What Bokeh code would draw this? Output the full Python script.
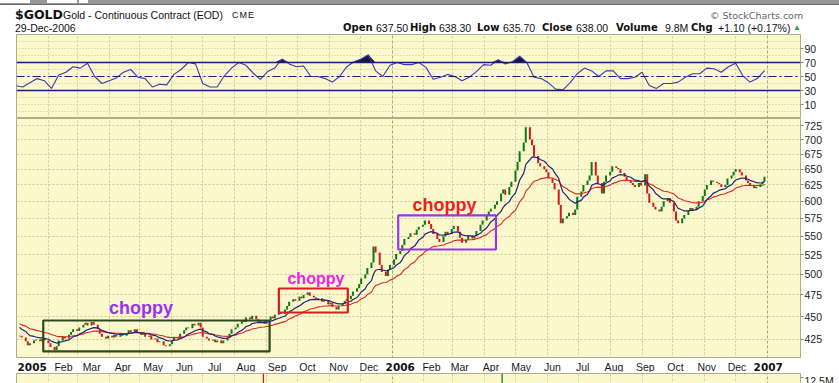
import numpy as np
import pandas as pd
from bokeh.plotting import figure
from bokeh.layouts import column
from bokeh.models import (Range1d, FixedTicker, Grid, Span, Label, Div,
                          NumeralTickFormatter, ColumnDataSource)
from bokeh.embed import file_html
from bokeh.resources import INLINE
from bokeh.core.properties import value

# ---------------- data ----------------
end_date = "2006-12-29"
first_open = 428.5
closes = [
    429, 427, 423, 419, 421, 424, 425, 423, 426, 424,
    421, 417, 414, 418, 424, 428, 426, 430, 433, 436,
    434, 438, 441, 443, 440, 444, 441, 436, 431, 428,
    426, 429, 427, 430, 428, 431, 429, 432, 435, 433,
    436, 433, 430, 432, 428, 429, 425, 426, 422, 423,
    419, 418, 420, 424, 428, 426, 431, 435, 438, 437,
    442, 440, 443, 438, 428, 426, 424, 425, 422, 424,
    421, 424, 427, 431, 436, 438, 442, 446, 444, 449,
    447, 451, 447, 443, 445, 442, 446, 450, 448, 452,
    455, 453, 458, 462, 467, 470, 468, 473, 471, 475,
    478, 474, 472, 469, 471, 467, 469, 464, 466, 461,
    458, 462, 465, 468, 470, 474, 479, 483, 488, 495,
    500, 508, 515, 536, 528, 512, 503, 498, 506, 512,
    519, 526, 530, 538, 546, 549, 554, 552, 559, 563,
    566, 572, 567, 560, 553, 546, 542, 550, 556, 553,
    560, 564, 556, 548, 541, 545, 551, 547, 550, 557,
    566, 572, 580, 585, 589, 595, 600, 612, 618, 610,
    622, 630, 648, 662, 680, 695, 722, 700, 690, 672,
    660, 655, 650, 645, 635, 628, 618, 595, 568, 575,
    578, 583, 580, 588, 607, 615, 625, 632, 640, 662,
    640, 628, 612, 630, 640, 646, 655, 652, 650, 644,
    638, 632, 628, 625, 622, 628, 624, 642, 612, 598,
    592, 588, 585, 592, 600, 605, 598, 585, 572, 568,
    575, 580, 586, 590, 587, 592, 600, 608, 618, 625,
    632, 630, 628, 626, 622, 625, 635, 640, 646, 650,
    645, 640, 632, 628, 625, 620, 622, 626, 630, 638,
]
rsi_values = [
    37, 35, 41, 47, 44, 33, 52, 56, 64, 62,
    69, 50, 40, 44, 48, 56, 60, 49, 47, 35,
    39, 38, 53, 60, 70, 68, 40, 35, 35, 51,
    62, 70, 66, 55, 46, 57, 62, 75, 68, 64,
    65, 50, 50, 47, 42, 50, 64, 71, 75, 81,
    58, 50, 66, 70, 67, 67, 70, 63, 46, 49,
    53, 50, 44, 49, 57, 67, 66, 74, 68, 71,
    79, 70, 49, 47, 41, 32, 31, 41, 54, 62,
    58, 50, 58, 58, 47, 47, 49, 56, 37, 33,
    40, 40, 42, 49, 54, 54, 62, 61, 56, 64,
    69, 51, 42, 47, 58.45,
]
blue_seed, blue_span = 440.0, 10
red_seed, red_span = 443.0, 25
price_ticks = [425, 450, 475, 500, 525, 550, 575, 600, 625, 650, 675, 700, 725]
rsi_ticks = [10, 30, 50, 70, 90]
rsi_grid = [0, 10, 20, 30, 40, 50, 60, 70, 80, 90, 100]
rsi_bands = [30, 70]
rsi_mid = 50
volume_ticks = [12.5e6]
volume_tick_labels = {12500000: "12.5M"}
vol_spike_dates = ["2005-08-29", "2006-04-18"]
vol_spike_values = [14.0e6, 14.5e6]
vol_spike_up = [False, True]
last_close = 638.00
last_ma = 626.27
last_rsi = 58.45
box_left = ["2005-01-27", "2005-09-13", "2006-01-07"]
box_right = ["2005-09-04", "2005-11-19", "2006-04-12"]
box_top = [445.6, 482.7, 579.2]
box_bottom = [412.5, 454.6, 532.0]
note_dates = ["2005-05-02", "2005-10-19", "2006-02-21"]
note_prices = [460.0, 495.0, 594.0]
note_text = ["choppy", "choppy", "choppy"]

# ---------------- styling ----------------
YELLOW = "#faf8cc"
OUTLINE = "#b0ac84"
GRID = "#cdc9a0"
YEARGRID = "#a9a57c"
UP = "#0b7a12"
DOWN = "#d41a1a"
W = 839
LEFT = 16
RIGHT = 39
FRAME_W = W - LEFT - RIGHT


def ms(t):
    return pd.Timestamp(t).value / 1e6


price_dates = pd.bdate_range(end=end_date, periods=len(closes), freq="2B")
rsi_dates = pd.bdate_range(end=end_date, periods=len(rsi_values), freq="5B")
px = price_dates.asi8 / 1e6
rx = rsi_dates.asi8 / 1e6

month_starts = pd.date_range("2005-01-01", "2007-01-01", freq="MS")
month_ms = [ms(d) for d in month_starts if d.month != 1]
year_ms = [ms(d) for d in month_starts if d.month == 1]
month_lbl = [d.strftime("%b") for d in month_starts if d.month != 1]
year_lbl = [d.strftime("%Y") for d in month_starts if d.month == 1]

x_start = ms("2005-01-01")
x_end = ms("2007-02-02")
xr = Range1d(x_start, x_end)


def ema(vals, span, seed):
    a = 2.0 / (span + 1)
    m = seed
    out = []
    for v in vals:
        m = m + a * (v - m)
        out.append(m)
    return out


blue_ma = ema(closes, blue_span, blue_seed)
red_ma = ema(closes, red_span, red_seed)


def base_fig(height, y_range, y_type="linear"):
    f = figure(width=W, height=height, x_range=xr, y_range=y_range, y_axis_type=y_type,
               x_axis_location=None, y_axis_location="right", toolbar_location=None,
               tools="", output_backend="svg", min_border_left=LEFT, min_border_right=RIGHT,
               min_border_top=0, min_border_bottom=0, background_fill_color=YELLOW,
               border_fill_color="white", outline_line_color=OUTLINE, outline_line_width=1)
    f.xgrid.visible = False
    f.ygrid.visible = False
    f.add_layout(Grid(dimension=0, ticker=FixedTicker(ticks=month_ms), grid_line_color=GRID,
                      grid_line_dash="2 2", grid_line_width=1))
    f.add_layout(Grid(dimension=0, ticker=FixedTicker(ticks=year_ms), grid_line_color=YEARGRID,
                      grid_line_dash="3 2", grid_line_width=1))
    ax = f.yaxis[0]
    ax.axis_line_color = None
    ax.major_tick_out = 3
    ax.major_tick_in = 0
    ax.major_tick_line_color = "#888888"
    ax.minor_tick_line_color = None
    ax.major_label_standoff = 1
    ax.major_label_text_font = "Liberation Sans"
    ax.major_label_text_font_size = "10.5px"
    ax.major_label_text_color = "#222222"
    return f


# ---------------- RSI panel ----------------
rsi_fig = base_fig(84, Range1d(-10, 110))
rsi_fig.add_layout(Grid(dimension=1, ticker=FixedTicker(ticks=rsi_grid), grid_line_color=GRID,
                        grid_line_dash="1 2", grid_line_width=1))
rsi_fig.yaxis.ticker = FixedTicker(ticks=rsi_ticks)
rsi_arr = np.array(rsi_values, dtype=float)
rsi_fig.varea(x=rx, y1=rsi_bands[1], y2=np.maximum(rsi_arr, rsi_bands[1]), fill_color="#17173c")
for lv in rsi_bands:
    rsi_fig.add_layout(Span(location=lv, dimension="width", line_color="#1c1c70", line_width=1.3))
rsi_fig.add_layout(Span(location=rsi_mid, dimension="width", line_color="#1c1c70", line_width=1,
                        line_dash="8 3 2 3"))
rsi_fig.line(rx, rsi_arr, line_color="#3a3ab4", line_width=1.1)
rsi_fig.add_layout(Label(x=x_end, y=last_rsi, x_offset=2, text=f"{last_rsi:.2f}",
                         text_font="Liberation Sans", text_font_size="11px",
                         text_color="#1c1c70", text_baseline="middle", text_align="left",
                         background_fill_color="white", border_line_color="#1c1c70"))

# ---------------- price panel ----------------
price_fig = base_fig(240, Range1d(405.3, 737.8), y_type="log")
price_fig.add_layout(Grid(dimension=1, ticker=FixedTicker(ticks=price_ticks), grid_line_color=GRID,
                          grid_line_dash="2 2", grid_line_width=1))
price_fig.yaxis.ticker = FixedTicker(ticks=price_ticks)
price_fig.yaxis.formatter = NumeralTickFormatter(format="0")

prev = [first_open] + closes[:-1]
bar_src = ColumnDataSource(dict(
    x=px, prev=prev, close=closes,
    color=[UP if c >= p else DOWN for c, p in zip(closes, prev)],
))
price_fig.segment(x0="x", y0="prev", x1="x", y1="close", line_color="color", line_width=2,
                  source=bar_src)
price_fig.line(px, red_ma, line_color="#dd2626", line_width=1.1)
price_fig.line(px, blue_ma, line_color="#22227a", line_width=1.2)

box_colors = ["#2e4a1c", "#d81e1e", "#9a35e8"]
price_fig.quad(left=[ms(d) for d in box_left], right=[ms(d) for d in box_right],
               top=box_top, bottom=box_bottom, fill_color=None, line_color=box_colors,
               line_width=2.2)
note_src = ColumnDataSource(dict(
    x=[ms(d) for d in note_dates], y=note_prices, t=note_text,
    c=["#9933ee", "#ee22ee", "#ee2222"], s=["18px", "16px", "18px"],
))
price_fig.text(x="x", y="y", text="t", text_color="c", text_font_size="s",
               text_font=value("Liberation Sans"), text_font_style="bold",
               text_align="center", text_baseline="middle", source=note_src)

price_fig.add_layout(Label(x=x_end, y=last_ma, x_offset=2, text=f"{last_ma:.2f}",
                           text_font="Liberation Sans", text_font_size="11px",
                           text_color="#20207a", text_baseline="middle", text_align="left"))
price_fig.add_layout(Label(x=x_end, y=last_close, x_offset=2, text=f"{last_close:.2f}",
                           text_font="Liberation Sans", text_font_size="11.5px",
                           text_font_style="bold", text_color="black", text_baseline="middle",
                           text_align="left", background_fill_color="white",
                           border_line_color="black"))

# ---------------- date strip ----------------
strip_start = x_start - LEFT * (x_end - x_start) / FRAME_W
strip = figure(width=W, height=14, x_range=Range1d(strip_start, x_end), y_range=Range1d(0, 14),
               x_axis_location=None, y_axis_location=None, toolbar_location=None, tools="",
               output_backend="svg", min_border_left=0, min_border_right=RIGHT, min_border_top=0,
               min_border_bottom=0, background_fill_color="white", border_fill_color="white",
               outline_line_color=None)
strip.xgrid.visible = False
strip.ygrid.visible = False
strip.text(x=month_ms, y=[6] * len(month_ms), text=month_lbl, text_font=value("Liberation Sans"),
           text_font_size="10.5px", text_color="#1a1a1a", text_align="center",
           text_baseline="middle")
strip.text(x=year_ms, y=[6] * len(year_ms), text=year_lbl, text_font=value("DejaVu Sans"),
           text_font_size="10.5px", text_font_style="bold", text_color="#111111",
           text_align="center", text_baseline="middle")

# ---------------- volume panel (only its top edge is visible) ----------------
vol_fig = base_fig(11, Range1d(10.9e6, 13.5e6))
vol_fig.yaxis.ticker = FixedTicker(ticks=volume_ticks)
vol_fig.yaxis.major_label_overrides = volume_tick_labels
vol_fig.vbar(x=[ms(d) for d in vol_spike_dates], top=vol_spike_values, bottom=0,
             width=86400000 * 1.2, fill_color=[UP if u else DOWN for u in vol_spike_up],
             line_color=None)

# ---------------- header ----------------
LS = "font-family:'Liberation Sans',Arial,sans-serif;"
DJ = "font-family:'DejaVu Sans',Verdana,sans-serif;"


def span(txt, left, top, style):
    return (f'<span style="position:absolute;left:{left}px;top:{top}px;white-space:nowrap;'
            f'{style}">{txt}</span>')


def box(left, top, width, height, style):
    return (f'<span style="position:absolute;display:block;left:{left}px;top:{top}px;'
            f'width:{width}px;height:{height}px;{style}"></span>')


bold = DJ + "font-weight:bold;font-size:10px;line-height:12px;color:#111;"
norm = LS + "font-size:10.5px;line-height:12px;color:#111;"
pieces = [
    box(0, 0, W, 4, "background-color:#979797;"),
    box(0, 4, W, 1, "background-color:#6a6a6a;"),
    box(0, 0, 30, 3, "background-color:#ffffff;"),
    box(47, 0, 30, 3, "background-color:#ffffff;"),
    box(79, 0, 9, 3, "background-color:#ffffff;"),
    span("$GOLD", 15, 8, DJ + "font-weight:bold;font-size:12.5px;line-height:14px;color:#111;"),
    span("Gold - Continuous Contract (EOD)", 63, 9, LS + "font-size:10.5px;line-height:12px;color:#111;"),
    span("CME", 232, 9, LS + "font-size:9px;letter-spacing:1px;line-height:12px;color:#111;"),
    span("29-Dec-2006", 15, 22, LS + "font-size:10.5px;line-height:12px;color:#111;"),
    span("&copy; StockCharts.com", 710, 10, DJ + "font-size:9.5px;line-height:12px;color:#666;"),
    span("Open", 343, 22, bold), span("637.50", 376, 22, norm),
    span("High", 410, 22, bold), span("638.30", 439, 22, norm),
    span("Low", 477, 22, bold), span("635.70", 503, 22, norm),
    span("Close", 542, 22, bold), span("638.00", 576, 22, norm),
    span("Volume", 616, 22, bold), span("9.8M", 665, 22, norm),
    span("Chg", 691, 22, bold), span("+1.10 (+0.17%)", 718, 22, norm),
    span("&#9650;", 793, 23, "font-size:8px;line-height:10px;color:#2a9a2a;"),
]
header = Div(text=f'<div style="position:relative;width:{W}px;height:34px;overflow:hidden;">'
             + "".join(pieces) + "</div>", width=W, height=34, margin=(0, 0, 0, 0))

layout = column(header, rsi_fig, price_fig, strip, vol_fig, spacing=0)
open("out.html", "w").write(file_html(layout, INLINE))
